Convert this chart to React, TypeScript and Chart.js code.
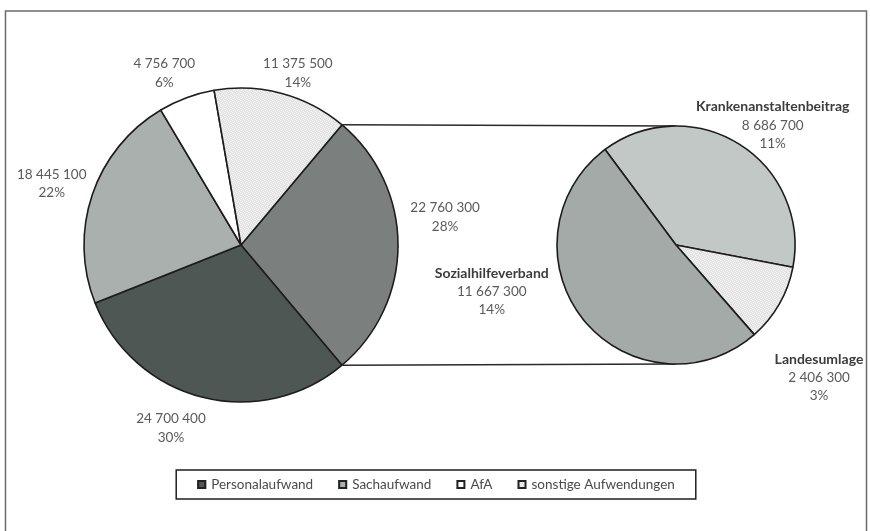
import React, { useEffect, useRef } from "react";
import { Chart, registerables } from "chart.js";
Chart.register(...registerables);

// ---- data ----
const otherLabel = "Andere";
const mainLabels = ["Personalaufwand", "Sachaufwand", "AfA", "sonstige Aufwendungen"];
const mainValues = [24700400, 18445100, 4756700, 11375500];
const subLabels = ["Krankenanstaltenbeitrag", "Landesumlage", "Sozialhilfeverband"];
const subValues = [8686700, 2406300, 11667300];

// ---- styling / layout constants ----
const FONT = "Lato, 'Open Sans', sans-serif";
const mainColors = ["#7b807e", "#4f5755", "#a9b0ad", "#ffffff", "PATTERN"];
const subColors = ["#c2c8c5", "PATTERN", "#a4aaa7"];
const mainLabelDist = [206, 196, 199, 188, 181];
const mainLabelShift = [-7.8, 6.8, -0.8, -3.8, 3.2];
const subLabelDist = [154, 195, 190];
const subLabelShift = [6.8, 13, 24.7];
const SUB_ROTATION = -36.6;

const fmt = (v: number) => String(Math.round(v)).replace(/\B(?=(\d{3})+(?!\d))/g, " ");

function makePattern(): CanvasPattern | string {
  const c = document.createElement("canvas");
  c.width = 4;
  c.height = 4;
  const g = c.getContext("2d");
  if (!g) return "#e8e8e8";
  g.fillStyle = "#e3e3e3";
  g.fillRect(0, 0, 4, 4);
  g.fillStyle = "#fafafa";
  g.fillRect(0, 0, 1, 1);
  g.fillRect(2, 1, 1, 1);
  g.fillRect(1, 2, 1, 1);
  g.fillRect(3, 3, 1, 1);
  const p = g.createPattern(c, "repeat");
  return p || "#e8e8e8";
}

function drawLabelBlock(
  ctx: CanvasRenderingContext2D,
  cx: number,
  cy: number,
  lines: { text: string; bold: boolean; color: string }[]
) {
  const lh = 18.5;
  const top = cy - ((lines.length - 1) * lh) / 2;
  ctx.textAlign = "center";
  ctx.textBaseline = "middle";
  lines.forEach((l, i) => {
    ctx.font = l.bold ? `bold 14px ${FONT}` : `13.5px ${FONT}`;
    ctx.fillStyle = l.color;
    ctx.fillText(l.text, cx, top + i * lh);
  });
}

export default function App() {
  const mainRef = useRef<HTMLCanvasElement>(null);
  const subRef = useRef<HTMLCanvasElement>(null);

  useEffect(() => {
    if (!mainRef.current || !subRef.current) return;
    const pattern = makePattern();
    const otherValue = subValues.reduce((a, b) => a + b, 0);
    const allMain = [otherValue, ...mainValues];
    const total = allMain.reduce((a, b) => a + b, 0);
    const pct = (v: number) => Math.round((v / total) * 100) + "%";
    const mainRotation = 90 - (otherValue / total) * 180;
    const mainFill = mainColors.map((c) => (c === "PATTERN" ? pattern : c));
    const subFill = subColors.map((c) => (c === "PATTERN" ? pattern : c));

    const framePlugin = {
      id: "frame",
      beforeDraw(chart: any) {
        const ctx = chart.ctx;
        ctx.save();
        ctx.fillStyle = "#ffffff";
        ctx.fillRect(0, 0, chart.width, chart.height);
        ctx.strokeStyle = "#6a6a6a";
        ctx.lineWidth = 1.5;
        ctx.strokeRect(5.5, 11, 861, 540);
        ctx.restore();
      },
    };

    const mainLabelPlugin = {
      id: "mainLabels",
      afterDatasetsDraw(chart: any) {
        const ctx = chart.ctx;
        const arcs = chart.getDatasetMeta(0).data;
        ctx.save();
        arcs.forEach((arc: any, i: number) => {
          const mid = (arc.startAngle + arc.endAngle) / 2 + (mainLabelShift[i] * Math.PI) / 180;
          const x = arc.x + Math.cos(mid) * mainLabelDist[i];
          const y = arc.y + Math.sin(mid) * mainLabelDist[i];
          drawLabelBlock(ctx, x, y, [
            { text: fmt(allMain[i]), bold: false, color: "#5a5a5a" },
            { text: pct(allMain[i]), bold: false, color: "#5a5a5a" },
          ]);
        });
        ctx.restore();
      },
    };

    const legendPlugin = {
      id: "customLegend",
      afterDraw(chart: any) {
        const ctx = chart.ctx;
        const labels: string[] = chart.data.labels.slice(1);
        const colors = chart.data.datasets[0].backgroundColor.slice(1);
        ctx.save();
        ctx.font = `13.5px ${FONT}`;
        const box = 9;
        const gapText = 5;
        const gapItem = 25;
        const widths = labels.map((l) => box + gapText + ctx.measureText(l).width);
        const content = widths.reduce((a, b) => a + b, 0) + gapItem * (labels.length - 1);
        const centerX = 436;
        const cy = 484.5;
        const padX = 21;
        ctx.strokeStyle = "#1e1e1e";
        ctx.lineWidth = 1.5;
        ctx.strokeRect(centerX - content / 2 - padX, 470, content + padX * 2, 29);
        let x = centerX - content / 2;
        labels.forEach((l, i) => {
          ctx.fillStyle = colors[i];
          ctx.fillRect(x, cy - box / 2, box, box);
          ctx.strokeStyle = "#222222";
          ctx.lineWidth = 2;
          ctx.strokeRect(x + 1, cy - box / 2 + 1, box - 2, box - 2);
          ctx.fillStyle = "#4a4a4a";
          ctx.textAlign = "left";
          ctx.textBaseline = "middle";
          ctx.fillText(l, x + box + gapText, cy);
          x += widths[i] + gapItem;
        });
        ctx.restore();
      },
    };

    const main = new Chart(mainRef.current, {
      type: "pie",
      data: {
        labels: [otherLabel, ...mainLabels],
        datasets: [
          {
            data: allMain,
            backgroundColor: mainFill as any,
            borderColor: "#1c1c1c",
            borderWidth: 1.6,
          },
        ],
      },
      options: {
        responsive: false,
        animation: false,
        rotation: mainRotation,
        radius: 157,
        layout: { padding: { left: 0, right: 388, top: 0, bottom: 41 } },
        plugins: { legend: { display: false }, tooltip: { enabled: false } },
      } as any,
      plugins: [framePlugin, mainLabelPlugin, legendPlugin],
    });

    const connectorPlugin = {
      id: "connector",
      beforeDatasetsDraw(chart: any) {
        const other: any = main.getDatasetMeta(0).data[0];
        const subArc: any = chart.getDatasetMeta(0).data[0];
        if (!other || !subArc) return;
        const r = other.outerRadius;
        const p1 = { x: other.x + r * Math.cos(other.startAngle), y: other.y + r * Math.sin(other.startAngle) };
        const p2 = { x: other.x + r * Math.cos(other.endAngle), y: other.y + r * Math.sin(other.endAngle) };
        const r2 = subArc.outerRadius;
        const ctx = chart.ctx;
        ctx.save();
        ctx.strokeStyle = "#2a2a2a";
        ctx.lineWidth = 1.5;
        ctx.beginPath();
        ctx.moveTo(p1.x, p1.y);
        ctx.lineTo(subArc.x, subArc.y - r2);
        ctx.moveTo(p2.x, p2.y);
        ctx.lineTo(subArc.x, subArc.y + r2);
        ctx.stroke();
        ctx.restore();
      },
    };

    const subLabelPlugin = {
      id: "subLabels",
      afterDatasetsDraw(chart: any) {
        const ctx = chart.ctx;
        const arcs = chart.getDatasetMeta(0).data;
        ctx.save();
        arcs.forEach((arc: any, i: number) => {
          const mid = (arc.startAngle + arc.endAngle) / 2 + (subLabelShift[i] * Math.PI) / 180;
          const x = arc.x + Math.cos(mid) * subLabelDist[i];
          const y = arc.y + Math.sin(mid) * subLabelDist[i];
          drawLabelBlock(ctx, x, y, [
            { text: subLabels[i], bold: true, color: "#3c3c3c" },
            { text: fmt(subValues[i]), bold: false, color: "#5a5a5a" },
            { text: pct(subValues[i]), bold: false, color: "#5a5a5a" },
          ]);
        });
        ctx.restore();
      },
    };

    const sub = new Chart(subRef.current, {
      type: "pie",
      data: {
        labels: subLabels,
        datasets: [
          {
            data: subValues,
            backgroundColor: subFill as any,
            borderColor: "#1c1c1c",
            borderWidth: 1.6,
          },
        ],
      },
      options: {
        responsive: false,
        animation: false,
        rotation: SUB_ROTATION,
        radius: 119,
        layout: { padding: { left: 482, right: 0, top: 0, bottom: 41 } },
        plugins: { legend: { display: false }, tooltip: { enabled: false } },
      } as any,
      plugins: [connectorPlugin, subLabelPlugin],
    });

    return () => {
      sub.destroy();
      main.destroy();
    };
  }, []);

  return (
    <div style={{ position: "absolute", left: 0, top: 0, width: 870, height: 531, background: "#ffffff", overflow: "hidden" }}>
      <canvas ref={mainRef} width={870} height={531} style={{ position: "absolute", left: 0, top: 0 }} />
      <canvas ref={subRef} width={870} height={531} style={{ position: "absolute", left: 0, top: 0 }} />
    </div>
  );
}
